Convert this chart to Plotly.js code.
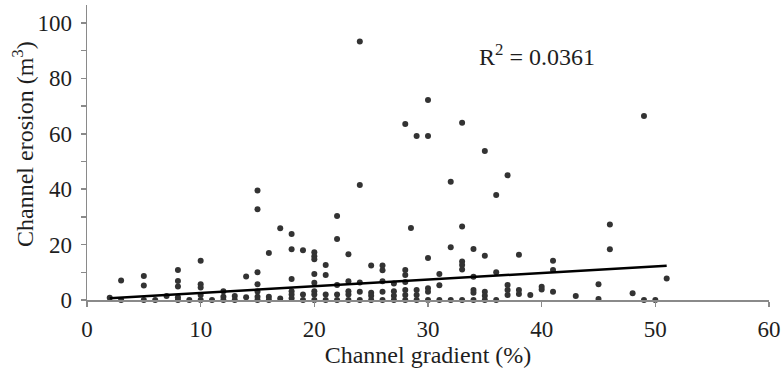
<!DOCTYPE html>
<html>
<head>
<meta charset="utf-8">
<script src="https://cdn.plot.ly/plotly-3.0.1.min.js"></script>
<style>html,body{margin:0;padding:0;background:#fff;}#chart{width:784px;height:377px;}</style>
</head>
<body>
<div id="chart"></div>
<script>
// Channel gradient (%) -> Channel erosion (m3), read column by column
var gradient = [
  2,
  3, 3,
  5, 5, 5,
  6,
  7,
  8, 8, 8, 8, 8,
  9,
  10, 10, 10, 10, 10,
  11,
  12, 12, 12,
  13, 13,
  14, 14,
  15, 15, 15, 15, 15, 15, 15,
  16, 16, 16,
  17, 17,
  18, 18, 18, 18, 18, 18,
  19, 19, 19,
  20, 20, 20, 20, 20, 20, 20, 20,
  21, 21, 21, 21,
  22, 22, 22, 22, 22,
  23, 23, 23, 23, 23,
  24, 24, 24, 24, 24,
  25, 25, 25, 25,
  26, 26, 26, 26, 26,
  27, 27, 27, 27,
  28, 28, 28, 28, 28, 28, 28,
  28.5,
  29, 29, 29, 29,
  30, 30, 30, 30, 30, 30,
  31, 31, 31,
  32, 32, 32,
  33, 33, 33, 33, 33, 33,
  34, 34, 34, 34, 34,
  35, 35, 35, 35, 35,
  36, 36, 36,
  37, 37, 37, 37,
  38, 38, 38,
  39,
  40, 40,
  41, 41, 41,
  43,
  45, 45,
  46, 46,
  48,
  49, 49,
  50,
  51
];
var erosion = [
  0.8,
  7, 0,
  8.7, 5.2, 0,
  0,
  1.4,
  10.8, 6.9, 4.9, 1, 0,
  0,
  14.2, 5.7, 4.5, 1.8, 0,
  0,
  3.2, 1.2, 0,
  1.4, 0,
  8.5, 1,
  39.5, 32.8, 10, 5.7, 3.1, 1.2, 0,
  17, 1.2, 0,
  25.9, 0.5,
  23.8, 18.3, 7.6, 3.2, 2, 0.6,
  18, 2, 0,
  17.2, 15.8, 14.7, 9.4, 6.2, 3.2, 2, 0,
  12.6, 9, 2, 0,
  30.3, 22, 5.4, 2, 0,
  16.5, 6.8, 3.2, 2, 0,
  93.3, 41.5, 6.3, 3, 0,
  12.5, 2.6, 1.5, 0,
  12.5, 10.7, 6.8, 3, 0,
  6, 3.2, 1.5, 0,
  63.5, 10.8, 9, 6.5, 3.6, 1.8, 0,
  26,
  59.2, 3.6, 1.8, 0,
  72.2, 59.2, 15.2, 4.2, 3, 0,
  9.4, 5.3, 0,
  42.7, 19, 0,
  64, 26.5, 13.9, 12.6, 11, 0,
  18.4, 8.4, 3.6, 2.6, 0,
  53.8, 16, 3, 1.5, 0,
  37.9, 10, 0,
  45, 5.4, 3.6, 1.8,
  16.3, 3.6, 2.2,
  1.8,
  4.8, 3.8,
  14.2, 10.8, 3,
  1.4,
  5.7, 0.4,
  27.3, 18.3,
  2.4,
  66.4, 0,
  0,
  7.8
];
// Linear trend line end points
var trendX = [2, 51];
var trendY = [0.6, 12.4];
var rSquaredText = "R<sup>2</sup> = 0.0361";
var xTitle = "Channel gradient (%)";
var yTitle = "Channel erosion (m<sup>3</sup>)";

var serif = "Liberation Serif";
var ink = "#1e1e1e";

var traces = [
  {
    x: gradient, y: erosion, type: "scatter", mode: "markers",
    marker: {color: "#333", size: 6, line: {width: 0}},
    cliponaxis: false, showlegend: false, hoverinfo: "x+y"
  },
  {
    x: trendX, y: trendY, type: "scatter", mode: "lines",
    line: {color: "#000", width: 2.5},
    cliponaxis: false, showlegend: false
  }
];

var layout = {
  width: 784, height: 377,
  margin: {l: 87, r: 15, t: 5, b: 77},
  paper_bgcolor: "#fff", plot_bgcolor: "#fff",
  font: {family: serif, size: 23, color: ink},
  showlegend: false,
  xaxis: {
    range: [0, 60], dtick: 10, tick0: 0,
    showgrid: false, zeroline: false,
    showline: true, linecolor: "#8a8a8a", linewidth: 1.5,
    ticks: "outside", ticklen: 5, tickcolor: "#8a8a8a", tickwidth: 1.5,
    tickfont: {family: serif, size: 23, color: ink},
    ticklabelstandoff: 3,
    title: {text: xTitle, font: {family: serif, size: 24, color: ink}, standoff: 0}
  },
  yaxis: {
    range: [0, 106.5], dtick: 20, tick0: 0,
    showgrid: false, zeroline: false,
    showline: true, linecolor: "#8a8a8a", linewidth: 1.5,
    ticks: "outside", ticklen: 5, tickcolor: "#8a8a8a", tickwidth: 1.5,
    minor: {dtick: 10, ticks: "outside", ticklen: 5, tickcolor: "#8a8a8a", tickwidth: 1.5, showgrid: false},
    tickfont: {family: serif, size: 23, color: ink},
    ticklabelstandoff: 4
  },
  annotations: [
    {x: 39.6, y: 88.4, xref: "x", yref: "y", text: rSquaredText, showarrow: false,
     font: {family: serif, size: 24, color: ink}},
    {x: -0.0938, y: 0.529, xref: "paper", yref: "paper", text: yTitle, showarrow: false,
     textangle: -90, xanchor: "center", yanchor: "middle",
     font: {family: serif, size: 24, color: ink}}
  ]
};

Plotly.newPlot("chart", traces, layout, {displayModeBar: false, staticPlot: true});
</script>
</body>
</html>
